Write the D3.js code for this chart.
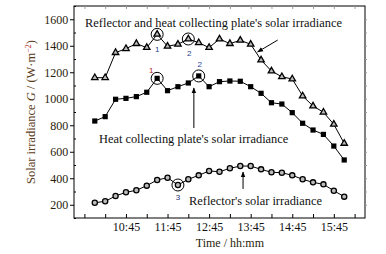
<!DOCTYPE html>
<html><head><meta charset="utf-8">
<script src="https://cdn.jsdelivr.net/npm/d3@7"></script>
<style>body{margin:0;background:#fff}svg{display:block}</style>
</head><body>
<script>
// times in minutes from 10:00 every 15 min
const times = d3.range(25).map(i => 600 + i * 15);
const combined = [1159,1159,1348,1378,1416,1386,1486,1396,1411,1451,1423,1386,1451,1416,1441,1411,1292,1209,1166,1149,1021,945,898,807,663];
const plate = [832,865,996,1003,1016,1049,1154,1061,1091,1119,1172,1091,1129,1134,1132,1091,1041,970,960,895,815,764,731,643,538];
const reflector = [215,226,266,294,309,344,387,404,349,392,422,455,449,475,492,492,467,445,442,422,392,369,354,306,261];
const yTicks = [200,400,600,800,1000,1200,1400,1600];
const xTickLabels = ["10:45","11:45","12:45","13:45","14:45","15:45"];
const highlights = [
  {series:"combined", i:6, label:"1", dx:0, dy:15, color:"#1f3f8f"},
  {series:"combined", i:9, label:"2", dx:1, dy:14, color:"#1f3f8f"},
  {series:"plate", i:6, label:"1", dx:-6, dy:-8, color:"#b01818"},
  {series:"plate", i:10, label:"2", dx:1, dy:-12, color:"#1f3f9f"},
  {series:"reflector", i:8, label:"3", dx:0, dy:12, color:"#1f2f6f"}
];

const W = 386, H = 254;
const m = {l:74, r:21, t:6, b:36};
const svg = d3.select("body").append("svg").attr("width", W).attr("height", H);
const x = d3.scaleLinear().domain([570, 990]).range([m.l, W - m.r]);
const y = d3.scaleLinear().domain([100, 1700]).range([H - m.b, m.t]);
const serif = "'Liberation Serif','Times New Roman',serif";
const sans = "'Liberation Sans',Arial,sans-serif";

// frame
svg.append("rect").attr("x", m.l).attr("y", m.t).attr("width", W - m.r - m.l).attr("height", H - m.b - m.t)
  .attr("fill", "none").attr("stroke", "#000").attr("stroke-width", 1);

// x axis
const fmt = t => Math.floor(t/60) + ":" + String(t%60).padStart(2,"0");
const xTickVals = d3.range(585, 990, 30);
const xAxis = d3.axisBottom(x).tickValues(xTickVals).tickSizeInner(-4).tickSizeOuter(0)
  .tickFormat(t => xTickLabels.includes(fmt(t)) ? fmt(t) : "");
const gx = svg.append("g").attr("transform", `translate(0,${H - m.b})`).call(xAxis);
gx.select(".domain").remove();
gx.selectAll("text").attr("font-family", serif).attr("font-size", 12).attr("fill", "#111").attr("y", 4).attr("dy", "0.71em");
// top mirrored ticks
svg.append("g").attr("transform", `translate(0,${m.t})`)
  .call(d3.axisTop(x).tickValues(xTickVals).tickSizeInner(-3).tickSizeOuter(0).tickFormat(""))
  .call(g => g.select(".domain").remove()).selectAll("line").attr("stroke", "#999");

// y axis
const gy = svg.append("g").attr("transform", `translate(${m.l},0)`)
  .call(d3.axisLeft(y).tickValues(yTicks).tickSize(4).tickSizeOuter(0).tickFormat(d3.format("d")));
gy.select(".domain").remove();
gy.selectAll("text").attr("font-family", serif).attr("font-size", 12).attr("fill", "#2a1c0a").attr("dx", "0.1em");
svg.append("g").attr("transform", `translate(${m.l},0)`)
  .call(d3.axisRight(y).tickValues(d3.range(100, 1701, 200)).tickSize(2).tickFormat(""))
  .call(g => g.select(".domain").remove());
// right mirrored ticks
svg.append("g").attr("transform", `translate(${W - m.r},0)`)
  .call(d3.axisLeft(y).tickValues(d3.range(200, 1601, 100)).tickSize(-2).tickFormat(""))
  .call(g => g.select(".domain").remove()).selectAll("line").attr("stroke", "#999");

// axis titles
svg.append("text").attr("x", x(795)).attr("y", 247).attr("text-anchor", "middle")
  .attr("font-family", serif).attr("font-size", 12).attr("fill", "#2a1c0a")
  .text("Time / hh:mm");
const yt = svg.append("text").attr("transform", `translate(35,${y(900)}) rotate(-90)`).attr("text-anchor", "middle")
  .attr("font-family", serif).attr("font-size", 12.5).attr("fill", "#5a3a18");
yt.append("tspan").text("Solar irradiance ");
yt.append("tspan").attr("font-style", "italic").text("G");
yt.append("tspan").text(" / (W·m");
yt.append("tspan").attr("baseline-shift", "super").attr("font-size", 8).attr("fill", "#b02020").text("−2");
yt.append("tspan").text(")");

// lines
const line = d3.line().x((d,i) => x(times[i])).y(d => y(d));
const seriesMap = {combined, plate, reflector};
Object.values(seriesMap).forEach(s => {
  svg.append("path").datum(s).attr("d", line).attr("fill", "none").attr("stroke", "#000").attr("stroke-width", 1);
});

// markers
svg.append("g").selectAll("path").data(combined).join("path")
  .attr("d", d3.symbol(d3.symbolTriangle, 18))
  .attr("transform", (d,i) => `translate(${x(times[i])},${y(d)})`)
  .attr("fill", "#bbb").attr("stroke", "#000").attr("stroke-width", 1.3);
svg.append("g").selectAll("rect").data(plate).join("rect")
  .attr("x", (d,i) => x(times[i]) - 2.6).attr("y", d => y(d) - 2.6)
  .attr("width", 5.2).attr("height", 5.2).attr("fill", "#000");
svg.append("g").selectAll("circle").data(reflector).join("circle")
  .attr("cx", (d,i) => x(times[i])).attr("cy", d => y(d)).attr("r", 2.6)
  .attr("fill", "#bbb").attr("stroke", "#000").attr("stroke-width", 1.3);

// highlights
highlights.forEach(h => {
  const v = seriesMap[h.series][h.i];
  const cx = x(times[h.i]), cy = y(v);
  svg.append("circle").attr("cx", cx).attr("cy", cy).attr("r", 6)
    .attr("fill", "none").attr("stroke", "#000").attr("stroke-width", 1);
  svg.append("text").attr("x", cx + h.dx).attr("y", cy + h.dy).attr("dy", "0.35em").attr("text-anchor", "middle")
    .attr("font-family", sans).attr("font-size", 8).attr("fill", h.color).text(h.label);
});

// annotations
const defs = svg.append("defs");
defs.append("marker").attr("id", "ah").attr("viewBox", "0 0 10 10").attr("refX", 9).attr("refY", 5)
  .attr("markerWidth", 6).attr("markerHeight", 6).attr("orient", "auto")
  .append("path").attr("d", "M0,1 L10,5 L0,9 Z").attr("fill", "#000");
const arrows = [
  {t0:864, v0:1443, t1:835, v1:1353},
  {t0:743, v0:779, t1:743, v1:1081},
  {t0:814, v0:319, t1:814, v1:447}
];
arrows.forEach(a => {
  svg.append("line").attr("x1", x(a.t0)).attr("y1", y(a.v0)).attr("x2", x(a.t1)).attr("y2", y(a.v1))
    .attr("stroke", "#000").attr("stroke-width", 1).attr("marker-end", "url(#ah)");
});
const notes = [
  {t:586, v:1543, text:"Reflector and heat collecting plate's solar irradiance"},
  {t:606, v:666, text:"Heat collecting plate's solar irradiance"},
  {t:736, v:198, text:"Reflector's solar irradiance"}
];
notes.forEach(n => {
  svg.append("text").attr("x", x(n.t)).attr("y", y(n.v)).attr("font-family", serif).attr("font-size", 12.4)
    .attr("fill", "#111").text(n.text);
});
</script>
</body></html>
